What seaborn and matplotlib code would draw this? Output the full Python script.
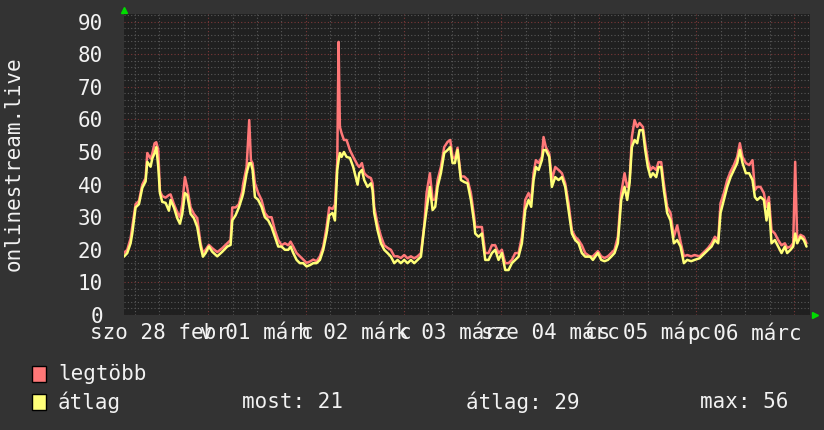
import numpy as np
import pandas as pd
import seaborn as sns
import matplotlib.pyplot as plt
from matplotlib.patches import Rectangle

# time in hours, counted from 01 márc 00:00
hours = [-20.72, -19.90, -19.08, -18.67, -17.85, -17.03, -16.21, -15.39, -14.98, -14.16,
         -13.75, -13.18, -12.77, -12.28, -11.87, -11.30, -10.48, -9.66, -9.25, -8.43,
         -7.61, -6.95, -6.38, -5.73, -5.15, -4.33, -3.51, -2.70, -1.88, -1.30,
         -0.65, 0.17, 0.99, 2.22, 3.45, 4.68, 5.50, 5.91, 6.73, 7.54,
         8.36, 8.61, 9.43, 10.08, 10.49, 10.90, 11.48, 12.29, 13.11, 13.93,
         14.75, 15.57, 16.39, 17.21, 18.03, 18.85, 19.67, 20.24, 20.90, 21.72,
         22.53, 23.35, 24.17, 24.99, 25.81, 26.63, 27.45, 28.27, 29.09, 29.74,
         30.56, 31.14, 31.71, 32.04, 32.36, 32.77, 33.35, 34.00, 34.82, 35.64,
         36.71, 37.11, 37.77, 38.34, 39.16, 39.98, 40.39, 40.80, 41.62, 42.44,
         43.26, 44.08, 44.90, 45.72, 46.54, 47.35, 48.17, 48.99, 49.81, 50.63,
         51.45, 52.27, 53.09, 53.66, 54.48, 55.14, 55.79, 56.37, 57.18, 58.00,
         58.82, 59.48, 60.05, 60.62, 61.28, 62.10, 62.92, 63.74, 64.56, 65.37,
         65.62, 66.44, 67.26, 68.08, 68.90, 69.72, 70.53, 71.35, 72.17, 72.99,
         73.81, 74.63, 75.45, 76.27, 77.09, 77.91, 78.73, 79.38, 79.96, 80.53,
         81.19, 82.00, 82.41, 82.99, 83.81, 84.46, 85.28, 86.10, 86.92, 87.74,
         88.56, 89.38, 90.19, 91.01, 91.83, 92.65, 93.88, 94.54, 95.77, 96.58,
         97.40, 98.22, 99.04, 99.86, 100.68, 101.50, 102.32, 102.97, 103.55, 104.12,
         104.78, 105.43, 106.01, 106.82, 107.40, 108.05, 108.71, 109.28, 110.10, 110.67,
         111.33, 111.98, 112.80, 113.62, 114.44, 115.26, 116.08, 116.90, 117.72, 118.70,
         119.52, 120.75, 122.06, 122.88, 123.70, 124.52, 125.34, 125.91, 126.73, 127.55,
         128.37, 129.19, 130.00, 130.66, 131.32, 132.13, 132.95, 133.77, 134.35, 134.92,
         135.74, 136.56, 137.21, 137.79, 138.44, 139.26, 140.08, 140.90, 141.72, 142.29,
         143.11, 143.77, 144.26, 144.75, 145.57, 146.39, 147.04]

atlag = [17.9, 19.0, 22.0, 25.0, 33.0, 34.0, 39.0, 41.0, 47.0, 45.5,
         48.0, 49.7, 51.5, 45.5, 37.4, 34.7, 34.4, 32.0, 35.3, 33.0,
         29.7, 28.0, 31.0, 37.4, 36.8, 31.0, 29.7, 27.0, 21.0, 17.9,
         19.0, 21.0, 19.4, 18.0, 19.4, 21.0, 21.5, 29.0, 30.6, 33.0,
         36.2, 37.4, 43.5, 46.6, 46.6, 44.5, 36.2, 35.3, 33.2, 30.0,
         29.0, 27.0, 24.0, 21.0, 21.0, 20.0, 20.0, 21.0, 19.0, 16.9,
         15.9, 15.9, 14.9, 15.3, 15.9, 15.9, 16.9, 20.0, 25.0, 30.6,
         31.3, 29.0, 44.5, 47.5, 49.7, 48.5, 50.0, 48.5, 48.2, 45.4,
         40.0, 43.5, 44.5, 41.4, 39.3, 40.4, 38.3, 31.3, 26.0, 22.0,
         20.0, 19.0, 17.9, 15.9, 16.9, 15.9, 16.9, 15.9, 16.9, 15.9,
         16.9, 17.9, 27.0, 32.2, 39.3, 32.2, 33.2, 39.3, 43.5, 49.7,
         50.6, 51.5, 46.6, 46.6, 50.6, 41.4, 40.8, 40.4, 35.3, 28.2,
         25.0, 24.0, 25.0, 16.9, 16.9, 19.0, 20.0, 16.9, 19.0, 13.8,
         13.8, 15.9, 16.9, 17.9, 22.0, 32.2, 35.3, 33.2, 41.4, 45.4,
         44.5, 47.5, 50.6, 50.6, 48.5, 39.3, 42.3, 41.4, 42.3, 39.3,
         32.2, 25.0, 23.0, 22.0, 19.0, 17.9, 17.9, 16.9, 19.0, 16.9,
         16.5, 16.9, 17.9, 19.0, 22.0, 35.3, 39.3, 35.3, 40.4, 51.5,
         53.7, 52.7, 56.7, 56.7, 50.6, 45.4, 42.3, 43.5, 42.3, 45.4,
         45.4, 38.3, 31.3, 29.0, 22.0, 23.0, 21.0, 15.9, 16.9, 16.5,
         16.9, 17.4, 19.0, 20.0, 21.0, 23.0, 22.0, 31.3, 35.3, 39.3,
         42.3, 44.5, 46.6, 50.6, 46.6, 43.5, 43.5, 41.4, 36.2, 35.3,
         36.2, 35.3, 29.0, 34.3, 22.0, 23.0, 21.0, 19.0, 21.0, 19.0,
         20.0, 21.0, 25.0, 22.0, 24.0, 23.0, 21.0]

legtobb = [19.0, 20.0, 23.5, 27.0, 34.0, 35.0, 40.0, 42.0, 49.7, 48.0,
           49.5, 52.7, 53.0, 50.6, 38.0, 36.5, 36.0, 36.8, 37.0, 34.0,
           31.5, 30.0, 34.0, 42.3, 39.0, 33.0, 31.0, 29.7, 22.0, 19.0,
           20.0, 21.5, 20.5, 19.3, 20.5, 22.0, 23.0, 33.0, 33.0, 34.0,
           38.0, 40.4, 45.4, 59.8, 47.5, 46.6, 40.4, 37.4, 35.3, 31.3,
           30.0, 30.0, 26.0, 23.0, 21.4, 22.0, 21.4, 22.5, 21.0, 19.0,
           18.0, 17.0, 16.0, 16.4, 17.0, 16.5, 18.0, 21.0, 27.0, 33.0,
           32.5, 33.9, 47.0, 83.8, 57.7, 55.8, 53.7, 53.7, 50.6, 48.5,
           46.0, 45.4, 46.6, 43.5, 42.5, 42.0, 40.4, 33.2, 27.9, 24.2,
           21.4, 20.6, 20.0, 18.0, 18.0, 17.5, 18.4, 17.4, 18.0, 17.4,
           18.0, 19.0, 27.5, 37.4, 43.5, 35.3, 35.5, 41.4, 45.4, 51.5,
           53.1, 53.7, 48.5, 48.0, 51.3, 42.5, 42.5, 41.5, 37.4, 30.0,
           27.0, 27.0, 27.0, 19.0, 19.0, 21.4, 21.4, 19.0, 20.0, 15.9,
           15.9, 16.9, 19.0, 19.0, 24.0, 35.3, 37.4, 35.3, 43.5, 47.5,
           46.6, 48.5, 54.6, 51.5, 49.5, 41.4, 45.4, 44.5, 43.5, 40.4,
           34.3, 26.0, 24.0, 23.0, 21.4, 19.0, 17.9, 18.0, 19.6, 18.0,
           17.5, 18.0, 19.0, 20.0, 24.0, 37.4, 43.5, 39.3, 41.0, 54.6,
           59.8, 57.7, 58.9, 57.7, 52.7, 47.5, 44.5, 45.4, 44.5, 46.9,
           46.9, 40.4, 33.2, 31.3, 24.0, 27.5, 22.5, 18.0, 18.4, 18.0,
           18.4, 18.0, 19.6, 20.6, 22.0, 24.0, 23.0, 34.3, 37.4, 41.4,
           44.0, 46.0, 48.5, 52.7, 48.5, 46.6, 46.0, 47.5, 38.3, 39.3,
           39.3, 37.4, 33.2, 36.2, 26.0, 25.0, 23.0, 21.4, 22.0, 20.6,
           21.0, 22.0, 47.0, 23.0, 24.6, 24.0, 22.0]

day_labels = ['szo 28 febr', 'v 01 márc', 'h 02 márc', 'k 03 márc',
              'sze 04 márc', 'cs 05 márc', 'p 06 márc']
y_label = 'onlinestream.live'
legend_names = ['legtöbb', 'átlag']
stats = ['most: 21', 'átlag: 29', 'max: 56']

bg = '#333333'
canvas = '#202020'
red = '#ff7878'
yellow = '#ffff78'
txt = '#f2f2f2'

df = pd.DataFrame({'t': hours, 'atlag': atlag, 'legtobb': legtobb})

sns.set_style('dark', {'axes.facecolor': canvas, 'figure.facecolor': bg})
plt.rcParams['font.family'] = ['DejaVu Sans Mono']

fig = plt.figure(figsize=(8.24, 4.30), dpi=100)
W, H = 824, 430
ax = fig.add_axes([124 / W, 1 - 315 / H, (810 - 124) / W, (315 - 13.5) / H])
ax.set_facecolor(canvas)

sns.lineplot(data=df, x='t', y='legtobb', ax=ax, color=red, lw=1.8,
             estimator=None, zorder=3)
sns.lineplot(data=df, x='t', y='atlag', ax=ax, color=yellow, lw=1.8,
             estimator=None, zorder=4)

# grid: gray minor, dim red major
days = np.arange(-24, 168, 24)
ax.set_xticks(days)
ax.set_xticks(np.arange(-24, 168, 6), minor=True)
ax.set_yticks(np.arange(0, 100, 10))
ax.set_yticks(np.arange(0, 94, 2), minor=True)
ax.set_xlim(-20.7, 147.9)
ax.set_ylim(0, 92.5)

ax.grid(False)
ax.grid(which='minor', color='#585858', lw=0.8, ls=(0, (1, 2)), zorder=1)
ax.grid(which='major', color='#7a3838', lw=0.8, ls=(0, (1, 2)), zorder=2)
ax.set_axisbelow(True)

ax.set_xticklabels([])
ax.tick_params(axis='x', which='both', length=0)
ax.tick_params(axis='y', which='both', length=0, pad=15, labelsize=15, labelcolor=txt)
for d, lab in zip(days, day_labels):
    ax.text(d + 12, -0.025, lab, transform=ax.get_xaxis_transform(),
            ha='center', va='top', fontsize=15, color=txt, clip_on=False)

ax.set_xlabel('')
ax.set_ylabel('')
for s in ax.spines.values():
    s.set_visible(False)

fig.text(14 / W, 1 - 164 / H, y_label, rotation=90, ha='center', va='center',
         fontsize=15, color=txt)

# small green arrow heads at axis ends
ax.plot([0], [1.01], marker='^', color='#00dd00', ms=5, transform=ax.transAxes, clip_on=False)
ax.plot([1.008], [0], marker='>', color='#00dd00', ms=5, transform=ax.transAxes, clip_on=False)

# legend
for i, (name, col) in enumerate(zip(legend_names, [red, yellow])):
    yc = 374 + 28 * i
    fig.add_artist(Rectangle((32 / W, 1 - (yc + 8) / H), 14 / W, 16 / H,
                             transform=fig.transFigure, fc=col, ec='black', lw=1))
    fig.text(58 / W, 1 - yc / H, name, ha='left', va='center', fontsize=15, color=txt)
for x0, s in zip([242, 466, 700], stats):
    fig.text(x0 / W, 1 - 402 / H, s, ha='left', va='center', fontsize=15, color=txt)

fig.savefig('out.png', dpi=100, facecolor=bg)
